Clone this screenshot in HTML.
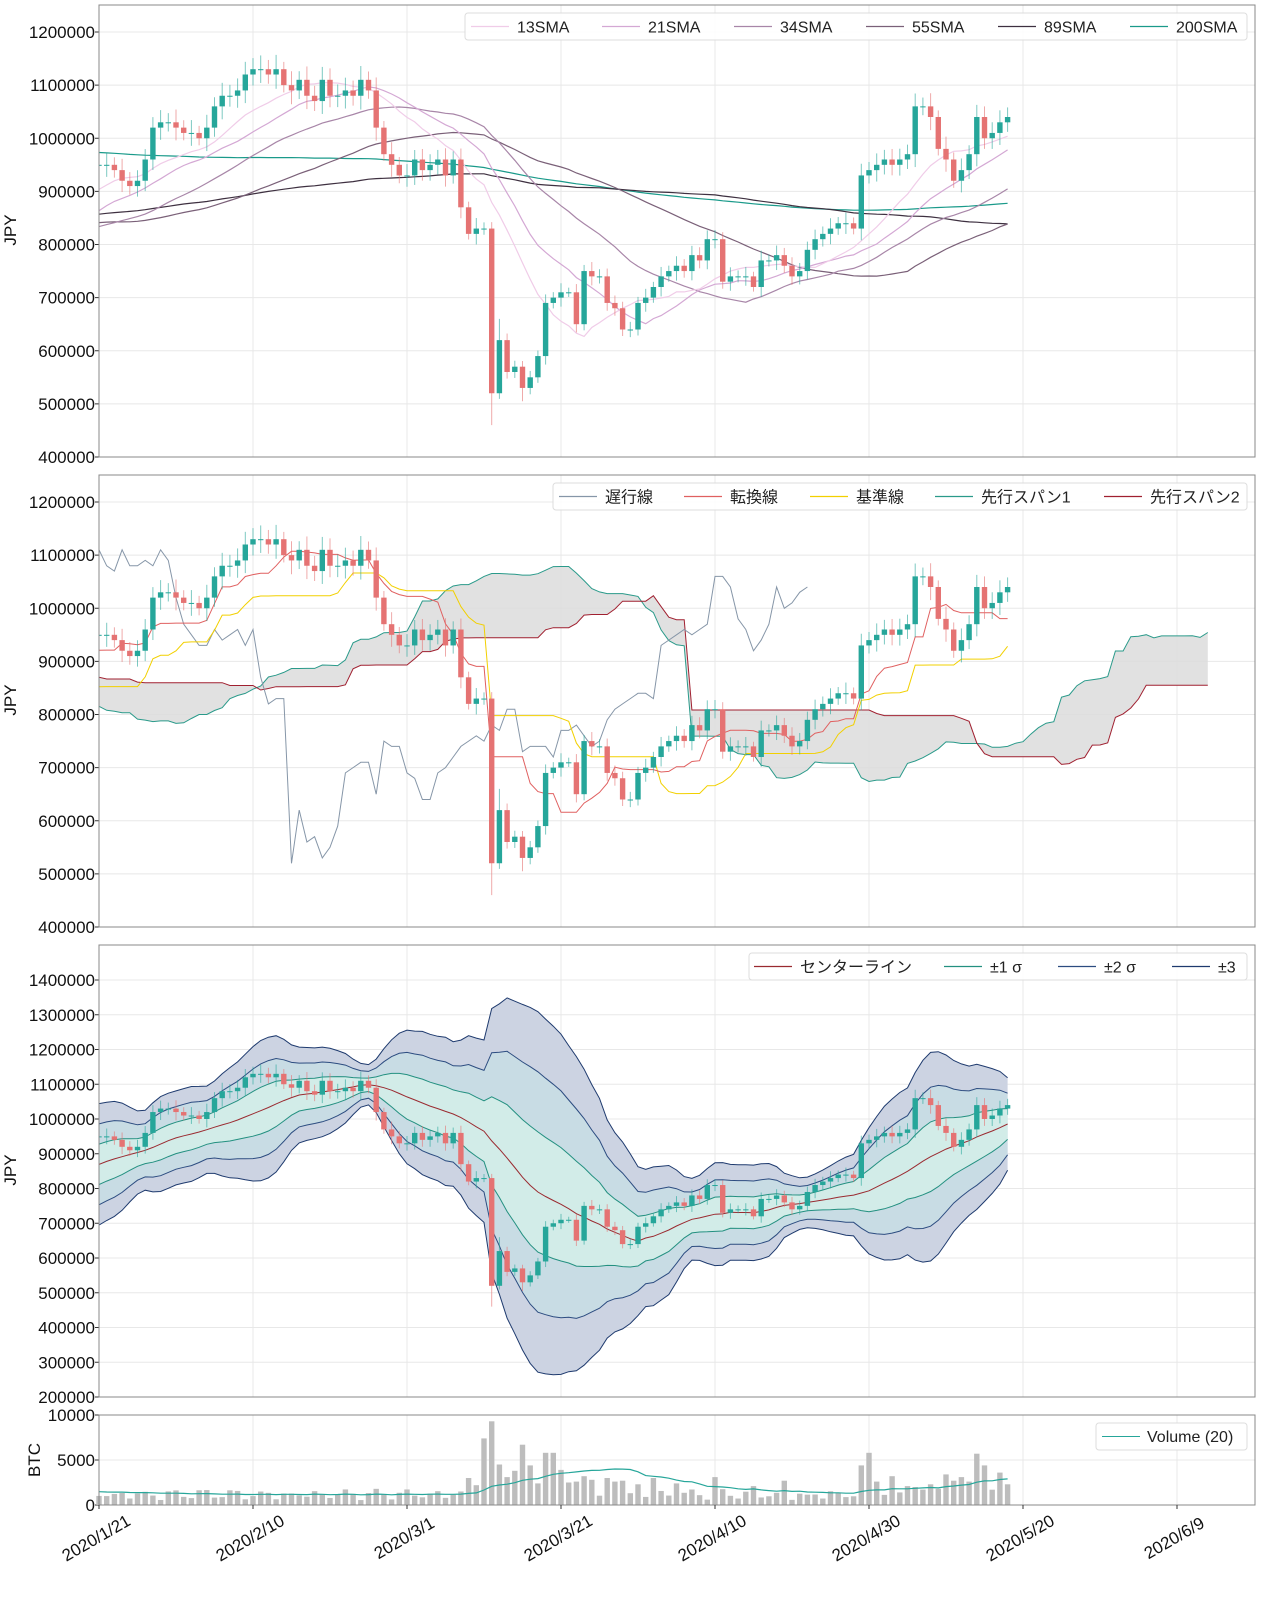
<!DOCTYPE html>
<html><head><meta charset="utf-8">
<style>
html,body{margin:0;padding:0;background:#fff;}
svg{display:block;font-family:"Liberation Sans","Noto Sans CJK JP",sans-serif;}
</style></head>
<body>
<svg id="s" width="1285" height="1600" viewBox="0 0 1285 1600" xmlns="http://www.w3.org/2000/svg"></svg>
<script>
const S=document.getElementById('s');
let out='';
const X0=99,DX=7.7,XR=1255;
const xd=d=>X0+DX*d;
const C=[950,950,940,920,910,920,960,1020,1030,1030,1020,1010,1010,1000,1020,1060,1080,1080,1090,1120,
1130,1130,1120,1130,1100,1090,1110,1080,1070,1110,1080,1080,1090,1080,1110,1090,1020,970,950,930,
930,960,940,950,960,930,960,870,820,830,830,520,620,560,570,530,550,590,690,700,
710,710,650,750,740,740,690,680,640,640,690,700,720,740,750,760,750,780,770,810,
810,730,740,740,740,720,770,770,780,760,740,750,790,810,820,830,840,840,830,930,
940,950,960,950,960,970,1060,1060,1040,980,960,920,940,970,1040,1000,1010,1030,1040].map(v=>v*1000);
const N=C.length;
const kp=[[-200,1100],[-150,1150],[-110,1000],[-85,800],[-60,960],[-45,850],[-26,780],[-20,760],[-1,960]];
function pre(d){for(let k=0;k<kp.length-1;k++){if(d>=kp[k][0]&&d<=kp[k+1][0]){const t=(d-kp[k][0])/(kp[k+1][0]-kp[k][0]);return (kp[k][1]+t*(kp[k+1][1]-kp[k][1]))*1000*(1+0.022*Math.sin(d*1.3));}}return 900000;}
const P=200;const F=[],H=[],L=[],O=[];
for(let d=-200;d<0;d++){const v=pre(d);F.push(v);H.push(v*1.02);L.push(v*0.98);O.push(v);}
for(let d=0;d<N;d++){const c=C[d];const o=d==0?950000:C[d-1];const w=c*0.012*(1+Math.abs(Math.sin(d*1.7)));
F.push(c);O.push(o);H.push(Math.max(o,c)+w);L.push(Math.min(o,c)-w);}
L[P+51]=460000;H[P+52]=660000;L[P+55]=505000;
const sma=(n,i)=>{let s=0;for(let k=i-n+1;k<=i;k++)s+=F[k];return s/n;};
const mid=(n,i)=>{let h=-1e18,l=1e18;for(let k=i-n+1;k<=i;k++){h=Math.max(h,H[k]);l=Math.min(l,L[k]);}return (h+l)/2;};
const std=(n,i)=>{const m=sma(n,i);let s=0;for(let k=i-n+1;k<=i;k++)s+=(F[k]-m)**2;return Math.sqrt(s/n);};
function panel(top,bot,vmin,vmax,ticks,clip){
  const y=v=>bot-(v-vmin)/(vmax-vmin)*(bot-top);
  out+=`<clipPath id="${clip}"><rect x="${X0}" y="${top}" width="${XR-X0}" height="${bot-top}"/></clipPath>`;
  for(let d=20;d<=140;d+=20)out+=`<line x1="${xd(d)}" x2="${xd(d)}" y1="${top}" y2="${bot}" stroke="#e8e8e8"/>`;
  ticks.forEach(t=>{const yy=y(t);out+=`<line x1="${X0}" x2="${XR}" y1="${yy}" y2="${yy}" stroke="#e8e8e8"/><line x1="${X0-4}" x2="${X0}" y1="${yy}" y2="${yy}" stroke="#333"/><text x="${X0-4}" y="${yy+6}" font-size="17" text-anchor="end" fill="#111">${t}</text>`;});
  return y;
}
function frame(top,bot){out+=`<rect x="${X0}" y="${top}" width="${XR-X0}" height="${bot-top}" fill="none" stroke="#888"/>`;}
function line(pts,col,w,clip){out+=`<polyline clip-path="url(#${clip})" fill="none" stroke="${col}" stroke-width="${w}" points="${pts.map(p=>p[0].toFixed(1)+','+p[1].toFixed(1)).join(' ')}"/>`;}
function candles(y,clip){for(let d=0;d<N;d++){const i=P+d;const up=F[i]>=O[i];const col=up?'#26a69a':'#e57373';const x=xd(d);
 const t=y(Math.max(O[i],F[i])),b=y(Math.min(O[i],F[i]));
 out+=`<g clip-path="url(#${clip})"><line x1="${x}" x2="${x}" y1="${y(H[i])}" y2="${y(L[i])}" stroke="${col}" stroke-width="1" opacity="0.6"/><rect x="${x-2.7}" y="${t}" width="5.4" height="${Math.max(b-t,1)}" fill="${col}"/></g>`;}}
function legend(x1,y1,x2,items){out+=`<rect x="${x1}" y="${y1}" width="${x2-x1}" height="27" rx="3" fill="#fff" fill-opacity="0.85" stroke="#ddd"/>`;
 items.forEach(([tx,lab,col])=>{out+=`<line x1="${tx-46}" x2="${tx-8}" y1="${y1+13.5}" y2="${y1+13.5}" stroke="${col}" stroke-width="1.2"/><text x="${tx}" y="${y1+19.5}" font-size="16" fill="#222">${lab}</text>`;});}
function ylab(yc){out+=`<text transform="translate(16,${yc}) rotate(-90)" font-size="17" text-anchor="middle" fill="#111">JPY</text>`;}
const T1=[400000,500000,600000,700000,800000,900000,1000000,1100000,1200000];
let y1=panel(5,457,400000,400000+452/425*800000,T1,'c1');
[[200,'#1a9a8a'],[89,'#3e3040'],[55,'#7a6078'],[34,'#a886a8'],[21,'#d4a8d4'],[13,'#f0cce8']].forEach(([n,c])=>{const pts=[];for(let d=0;d<N;d++)pts.push([xd(d),y1(sma(n,P+d))]);line(pts,c,1.2,'c1');});
candles(y1,'c1');frame(5,457);ylab(230);
legend(465,13,1247,[[517,'13SMA','#f0cce8'],[648,'21SMA','#d4a8d4'],[780,'34SMA','#a886a8'],[912,'55SMA','#7a6078'],[1044,'89SMA','#3e3040'],[1176,'200SMA','#1a9a8a']]);
let y2=panel(475,927,400000,400000+452/425*800000,T1,'c2');
const s1=[],s2=[];for(let d=0;d<=N-1+26;d++){const i=P+d-26;s1.push([xd(d),y2((mid(9,i)+mid(26,i))/2)]);s2.push([xd(d),y2(mid(52,i))]);}
out+=`<polygon clip-path="url(#c2)" fill="#dcdcdc" opacity="0.85" points="${s1.concat(s2.slice().reverse()).map(p=>p[0].toFixed(1)+','+p[1].toFixed(1)).join(' ')}"/>`;
line(s1,'#2a9a8a',1,'c2');line(s2,'#a02030',1,'c2');
{const ch=[];for(let d=26;d<N;d++)ch.push([xd(d-26),y2(F[P+d])]);line(ch,'#8696a8',1,'c2');
const tk=[],kj=[];for(let d=0;d<N;d++){tk.push([xd(d),y2(mid(9,P+d))]);kj.push([xd(d),y2(mid(26,P+d))]);}line(kj,'#f2d000',1,'c2');line(tk,'#e06060',1,'c2');}
candles(y2,'c2');frame(475,927);ylab(700);
legend(553,483,1247,[[605,'遅行線','#8696a8'],[730,'転換線','#e06060'],[856,'基準線','#f2d000'],[981,'先行スパン1','#2a9a8a'],[1150,'先行スパン2','#a02030']]);
const T3=[200000,300000,400000,500000,600000,700000,800000,900000,1000000,1100000,1200000,1300000,1400000];
let y3=panel(945,1397,200000,200000+452/417*1200000,T3,'c3');
const band=k=>{const a=[];for(let d=0;d<N;d++){const i=P+d;a.push([xd(d),y3(sma(20,i)+k*std(20,i))]);}return a;};
const poly=(a,b,col,op)=>{out+=`<polygon clip-path="url(#c3)" fill="${col}" fill-opacity="${op}" points="${a.concat(b.slice().reverse()).map(p=>p[0].toFixed(1)+','+p[1].toFixed(1)).join(' ')}"/>`;};
const b3=band(3),b2=band(2),b1=band(1),b0=band(0),m1=band(-1),m2=band(-2),m3=band(-3);
poly(b3,m3,'#ccd3e2',1);poly(b2,m2,'#c8dce4',1);poly(b1,m1,'#d2ece8',1);
line(b3,'#1e3a6e',1,'c3');line(m3,'#1e3a6e',1,'c3');line(b2,'#2c4c80',1,'c3');line(m2,'#2c4c80',1,'c3');
line(b1,'#239080',1,'c3');line(m1,'#239080',1,'c3');line(b0,'#9a2a30',1,'c3');
candles(y3,'c3');frame(945,1397);ylab(1170);
legend(749,953,1247,[[800,'センターライン','#9a2a30'],[990,'±1 σ','#239080'],[1104,'±2 σ','#2c4c80'],[1218,'±3','#1e3a6e']]);
let y4=panel(1415,1505,0,10000,[0,5000,10000],'c4');
const V=[];for(let d=0;d<N;d++){let v=500+1300*Math.abs(Math.sin(d*2.3+0.4))*(0.5+0.5*Math.abs(Math.cos(d*0.7)));V.push(v);}
const spk={47:1500,48:3000,49:2200,50:7400,51:9300,52:4500,53:3100,54:3800,55:6700,56:4400,57:2400,58:5800,59:5800,60:3900,61:2500,62:2600,63:3200,64:2800,66:3000,67:2600,68:2700,70:2300,72:3000,75:2400,80:3100,85:2100,89:2700,
99:4400,100:5800,101:2600,103:3200,105:2100,108:2300,110:3400,112:3100,113:2600,114:5700,115:4400,116:1700,117:3600,118:2300,111:2700,106:2000,109:1800};
for(const k in spk)V[+k]=spk[k];
for(let d=0;d<N;d++){out+=`<rect x="${xd(d)-2.7}" y="${y4(V[d])}" width="5.4" height="${1505-y4(V[d])}" fill="#bdbdbd"/>`;}
{const pts=[];for(let d=0;d<N;d++){let s=0,n=0;for(let k=Math.max(0,d-19);k<=d;k++){s+=V[k];n++;}let m=s/n;if(d<19)m=(s+(20-n)*1500)/20;pts.push([xd(d),y4(m)]);}line(pts,'#26a69a',1.2,'c4');}
frame(1415,1505);
out+=`<text transform="translate(40,1460) rotate(-90)" font-size="17" text-anchor="middle" fill="#111">BTC</text>`;
out+=`<rect x="1096" y="1423" width="151" height="27" rx="3" fill="#fff" stroke="#ddd"/><line x1="1102" x2="1140" y1="1436.5" y2="1436.5" stroke="#26a69a"/><text x="1147" y="1442" font-size="16" fill="#222">Volume (20)</text>`;
['2020/1/21','2020/2/10','2020/3/1','2020/3/21','2020/4/10','2020/4/30','2020/5/20','2020/6/9'].forEach((t,k)=>{const x=xd(20*k);
out+=`<line x1="${x}" x2="${x}" y1="1505" y2="1509" stroke="#333"/><text transform="translate(${x},1543) rotate(-30)" font-size="17" text-anchor="middle" fill="#111">${t}</text>`;});
S.innerHTML=out;
</script>
</body></html>
